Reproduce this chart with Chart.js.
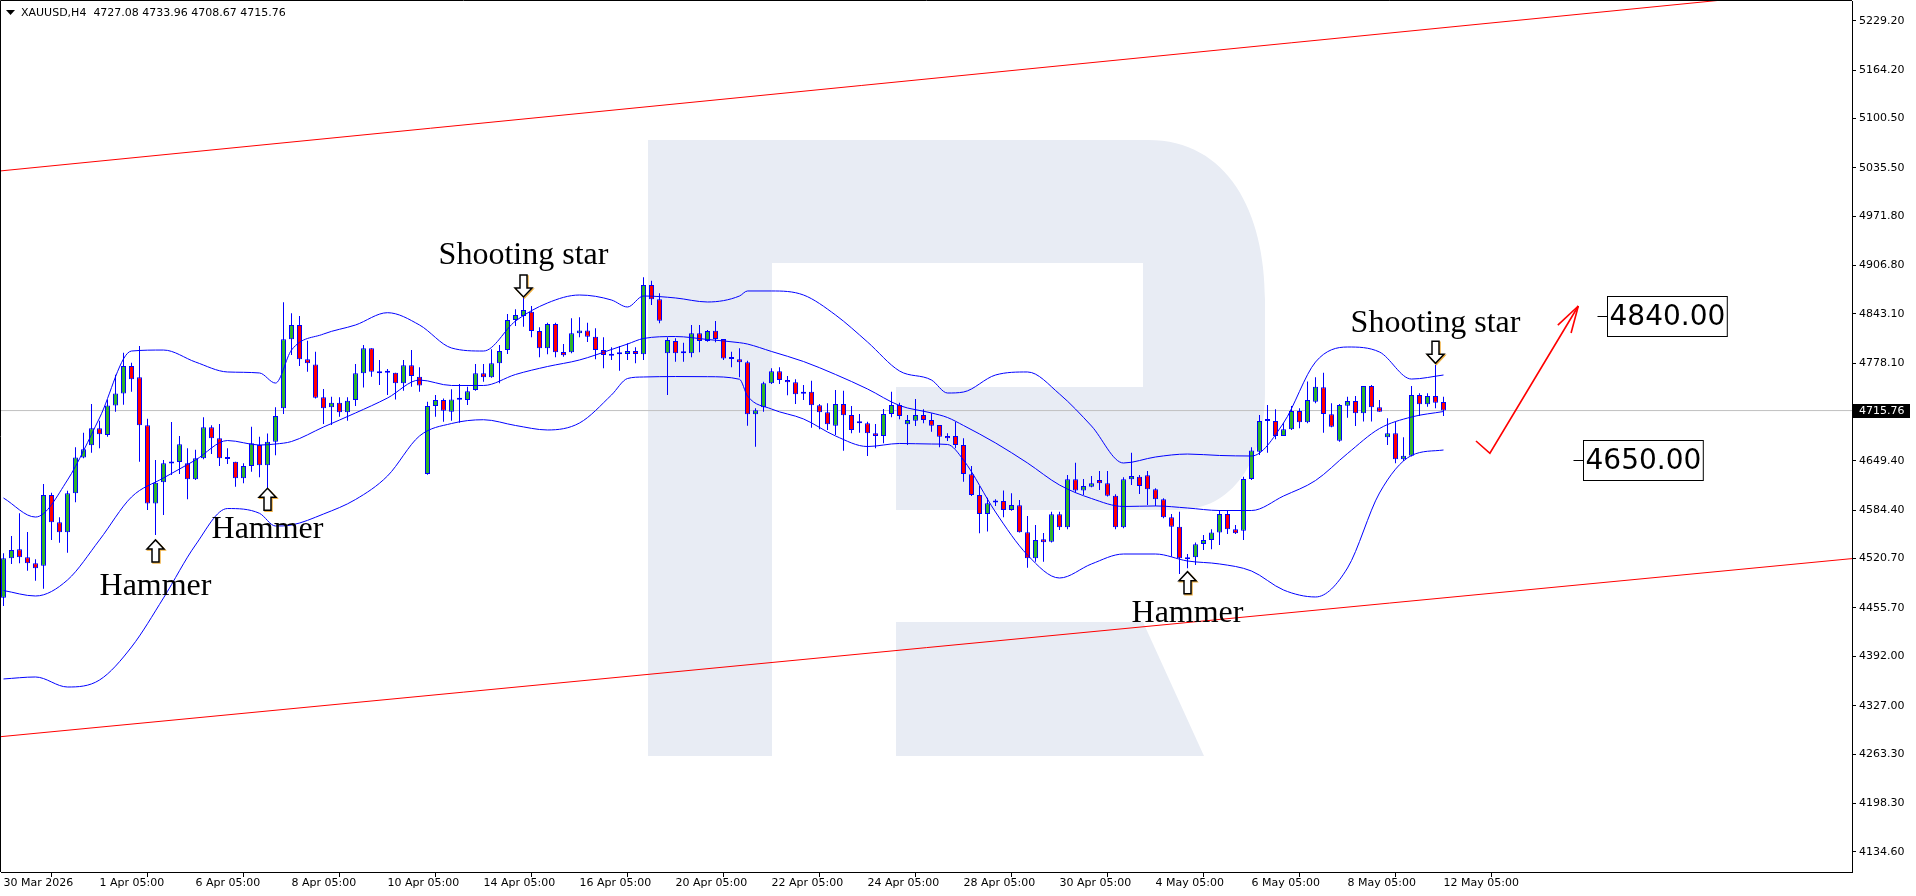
<!DOCTYPE html>
<html>
<head>
<meta charset="utf-8">
<title>XAUUSD, H4</title>
<script src="https://cdn.jsdelivr.net/npm/chart.js@4.4.1/dist/chart.umd.min.js"></script>
<style>
  html, body { margin: 0; padding: 0; background: #ffffff; overflow: hidden; }
  #xauChart { display: block; }
</style>
</head>
<body>
<canvas id="xauChart" width="1916" height="896"></canvas>
<script>
// H4 candles, bar 0 = 30 Mar 2026, last bar = 12 May 05:00
const opens = [
  4469.3, 4521.1, 4533.0, 4522.4, 4514.5, 4511.4, 4604.5, 4568.5, 4555.4, 4606.7,
  4654.1, 4670.0, 4692.4, 4683.6, 4722.6, 4738.4, 4774.5, 4759.5, 4696.3, 4593.5,
  4621.2, 4646.0, 4648.0, 4646.2, 4625.2, 4652.8, 4693.7, 4679.2, 4653.0, 4648.4,
  4626.5, 4642.7, 4670.4, 4643.6, 4674.8, 4718.7, 4809.6, 4828.4, 4783.2, 4776.6,
  4733.2, 4720.0, 4726.1, 4713.4, 4729.6, 4764.8, 4797.7, 4766.0, 4766.0, 4765.6,
  4751.6, 4775.3, 4760.4, 4632.2, 4721.7, 4729.6, 4714.3, 4730.0, 4729.6, 4742.8,
  4764.8, 4759.5, 4778.0, 4795.5, 4835.1, 4840.3, 4846.0, 4820.6, 4797.7, 4829.8,
  4792.9, 4792.5, 4817.5, 4821.4, 4813.1, 4795.5, 4789.0, 4790.0, 4790.3, 4794.2,
  4789.8, 4881.2, 4862.3, 4791.2, 4807.4, 4791.5, 4791.2, 4817.5, 4807.4, 4821.0,
  4810.0, 4784.0, 4783.3, 4779.3, 4710.8, 4720.0, 4751.6, 4767.5, 4756.0, 4753.0,
  4738.0, 4740.7, 4722.7, 4713.4, 4695.9, 4724.4, 4709.9, 4699.0, 4698.9, 4685.8,
  4682.3, 4711.2, 4723.1, 4697.6, 4702.4, 4709.9, 4703.3, 4696.8, 4682.3, 4682.3,
  4670.4, 4631.8, 4604.5, 4579.5, 4594.6, 4596.7, 4584.8, 4591.0, 4555.4, 4521.1,
  4546.2, 4543.1, 4579.1, 4562.0, 4625.2, 4610.3, 4615.5, 4624.3, 4619.9, 4603.7,
  4562.0, 4625.2, 4628.7, 4630.5, 4612.0, 4598.8, 4575.1, 4562.8, 4520.0, 4522.4,
  4540.0, 4545.3, 4555.0, 4579.5, 4559.3, 4557.6, 4625.6, 4661.6, 4703.0, 4702.0,
  4682.3, 4691.1, 4715.2, 4700.3, 4727.5, 4746.4, 4710.8, 4676.1, 4722.2, 4728.4,
  4712.1, 4748.1, 4720.0, 4680.5, 4685.8, 4651.6, 4656.4, 4736.3, 4724.0, 4735.0,
  4727.08
];
const highs = [
  4527.7, 4550.5, 4580.4, 4555.8, 4519.8, 4619.0, 4607.6, 4575.1, 4610.2, 4667.3,
  4686.6, 4724.4, 4702.4, 4730.5, 4763.0, 4792.0, 4778.8, 4800.8, 4705.1, 4650.6,
  4650.6, 4700.7, 4682.2, 4666.0, 4664.0, 4706.8, 4696.3, 4698.0, 4666.0, 4648.4,
  4646.2, 4694.5, 4681.3, 4685.7, 4720.0, 4858.3, 4843.8, 4840.3, 4807.8, 4793.3,
  4744.1, 4734.0, 4733.2, 4733.2, 4777.1, 4802.1, 4797.7, 4782.3, 4770.5, 4765.6,
  4782.3, 4795.5, 4772.7, 4727.5, 4736.2, 4731.8, 4743.7, 4750.7, 4747.2, 4777.1,
  4777.1, 4796.4, 4802.1, 4843.0, 4849.1, 4865.8, 4853.5, 4825.4, 4831.5, 4831.5,
  4803.4, 4837.3, 4838.6, 4831.5, 4824.1, 4812.2, 4799.1, 4800.8, 4804.3, 4799.1,
  4891.3, 4886.9, 4870.2, 4812.2, 4810.9, 4805.2, 4828.5, 4828.5, 4822.0, 4833.7,
  4810.0, 4793.4, 4797.8, 4781.5, 4718.7, 4753.8, 4771.4, 4772.7, 4761.3, 4756.9,
  4749.4, 4755.1, 4724.4, 4725.3, 4742.9, 4742.0, 4721.8, 4711.2, 4701.1, 4698.0,
  4717.8, 4740.7, 4726.2, 4709.9, 4731.0, 4717.4, 4712.1, 4696.8, 4685.8, 4701.1,
  4679.2, 4642.8, 4616.4, 4601.0, 4598.8, 4610.3, 4606.8, 4598.0, 4576.9, 4565.0,
  4554.6, 4582.6, 4582.6, 4630.9, 4647.1, 4625.6, 4629.6, 4636.2, 4636.2, 4605.4,
  4627.8, 4660.3, 4630.9, 4636.2, 4613.3, 4600.2, 4579.5, 4582.6, 4526.8, 4541.8,
  4551.9, 4559.3, 4584.8, 4584.8, 4565.0, 4628.7, 4667.4, 4710.0, 4723.1, 4717.4,
  4699.8, 4721.8, 4718.7, 4753.9, 4759.6, 4765.7, 4725.3, 4724.4, 4734.1, 4735.0,
  4748.1, 4749.5, 4729.7, 4705.6, 4701.2, 4680.5, 4748.1, 4738.5, 4738.5, 4775.8,
  4733.96
];
const lows = [
  4458.3, 4513.6, 4514.5, 4504.9, 4491.7, 4481.1, 4545.2, 4541.7, 4528.6, 4594.9,
  4652.8, 4660.3, 4666.0, 4681.4, 4714.3, 4723.5, 4740.6, 4648.4, 4584.8, 4551.8,
  4578.2, 4630.9, 4632.2, 4598.8, 4624.3, 4651.5, 4658.5, 4642.7, 4645.4, 4615.5,
  4619.9, 4635.2, 4627.8, 4607.6, 4656.8, 4711.2, 4788.9, 4774.4, 4767.0, 4731.8,
  4698.0, 4696.7, 4707.7, 4702.4, 4721.7, 4746.3, 4760.4, 4749.4, 4736.2, 4730.5,
  4741.9, 4747.2, 4740.6, 4631.3, 4707.7, 4701.1, 4702.4, 4699.8, 4723.1, 4741.9,
  4753.8, 4759.0, 4751.6, 4790.3, 4827.2, 4826.3, 4812.2, 4785.9, 4789.8, 4785.9,
  4786.8, 4791.2, 4812.2, 4806.1, 4783.2, 4771.4, 4782.4, 4768.3, 4782.4, 4778.0,
  4782.4, 4854.8, 4830.7, 4736.3, 4780.2, 4780.2, 4785.9, 4792.5, 4806.5, 4805.6,
  4782.4, 4772.7, 4759.5, 4695.9, 4668.2, 4714.3, 4750.8, 4750.8, 4735.8, 4724.4,
  4729.7, 4693.2, 4691.1, 4690.2, 4683.6, 4662.9, 4685.8, 4686.7, 4655.9, 4666.0,
  4672.6, 4706.9, 4704.2, 4670.4, 4695.4, 4699.0, 4688.0, 4667.3, 4675.7, 4666.0,
  4622.1, 4603.2, 4554.1, 4556.3, 4590.1, 4575.1, 4583.9, 4555.0, 4508.8, 4516.7,
  4516.7, 4541.8, 4558.4, 4559.3, 4607.6, 4604.5, 4614.6, 4611.1, 4602.4, 4559.3,
  4560.6, 4617.7, 4605.9, 4591.4, 4590.1, 4573.8, 4523.3, 4500.5, 4508.0, 4512.3,
  4532.1, 4533.0, 4538.7, 4553.2, 4553.2, 4545.3, 4624.3, 4657.3, 4660.3, 4677.9,
  4682.3, 4690.2, 4692.4, 4699.0, 4725.3, 4686.7, 4693.7, 4674.8, 4706.4, 4695.5,
  4701.2, 4701.2, 4714.3, 4670.4, 4646.3, 4649.4, 4655.1, 4708.6, 4720.9, 4718.7,
  4708.67
];
const closes = [
  4521.1, 4532.1, 4522.4, 4514.5, 4507.9, 4604.5, 4568.5, 4555.4, 4606.7, 4654.1,
  4664.7, 4692.4, 4684.4, 4722.6, 4738.4, 4774.5, 4756.9, 4696.3, 4593.5, 4620.8,
  4646.2, 4647.0, 4671.3, 4625.2, 4652.8, 4693.7, 4679.2, 4652.8, 4652.0, 4626.5,
  4642.7, 4672.6, 4643.6, 4674.8, 4708.6, 4809.6, 4828.4, 4783.2, 4778.0, 4732.7,
  4718.7, 4726.1, 4713.4, 4728.8, 4764.8, 4797.7, 4767.0, 4765.0, 4765.5, 4751.6,
  4775.3, 4761.3, 4748.9, 4721.7, 4729.6, 4715.6, 4730.5, 4731.0, 4741.1, 4764.8,
  4759.5, 4778.0, 4794.2, 4835.1, 4841.7, 4848.2, 4820.6, 4797.7, 4829.8, 4792.5,
  4788.5, 4817.5, 4821.4, 4813.1, 4795.5, 4789.0, 4788.0, 4790.3, 4794.2, 4790.3,
  4881.2, 4862.3, 4834.2, 4808.7, 4791.2, 4791.2, 4817.5, 4807.4, 4820.6, 4810.0,
  4784.4, 4783.7, 4779.3, 4710.8, 4716.1, 4751.6, 4767.5, 4756.0, 4753.0, 4737.2,
  4738.5, 4722.7, 4713.4, 4697.6, 4724.4, 4709.5, 4690.2, 4698.9, 4685.8, 4682.3,
  4711.2, 4723.1, 4708.6, 4703.3, 4709.9, 4703.3, 4695.9, 4681.4, 4679.2, 4670.4,
  4632.2, 4604.5, 4579.5, 4593.6, 4594.5, 4584.8, 4591.4, 4555.4, 4521.1, 4545.3,
  4542.2, 4579.1, 4562.0, 4625.2, 4610.3, 4616.4, 4619.9, 4619.9, 4603.7, 4562.0,
  4625.2, 4629.6, 4616.4, 4612.0, 4598.8, 4575.1, 4562.8, 4521.1, 4522.0, 4539.6,
  4545.3, 4555.0, 4579.5, 4559.3, 4554.1, 4625.6, 4663.0, 4702.0, 4702.0, 4682.3,
  4691.1, 4715.2, 4700.3, 4729.7, 4747.3, 4711.3, 4694.6, 4723.1, 4728.4, 4712.1,
  4748.1, 4720.0, 4714.3, 4685.8, 4651.6, 4656.4, 4736.3, 4724.0, 4735.0, 4726.2,
  4715.76
];

// time axis: one label every 12 bars
const timeTickIdx = [0, 12, 24, 36, 48, 60, 72, 84, 96, 108, 120, 132, 144, 156, 168, 180];
const timeLabels = ['30 Mar 2026', '1 Apr 05:00', '6 Apr 05:00', '8 Apr 05:00', '10 Apr 05:00',
  '14 Apr 05:00', '16 Apr 05:00', '20 Apr 05:00', '22 Apr 05:00', '24 Apr 05:00', '28 Apr 05:00',
  '30 Apr 05:00', '4 May 05:00', '6 May 05:00', '8 May 05:00', '12 May 05:00'];

// price axis labels
const priceTicks = [5229.2, 5164.2, 5100.5, 5035.5, 4971.8, 4906.8, 4843.1, 4778.1,
  4649.4, 4584.4, 4520.7, 4455.7, 4392.0, 4327.0, 4263.3, 4198.3, 4134.6];

// bollinger bands
const bandIdx = [0, 4, 8, 12, 16, 20, 24, 28, 32, 34, 36, 40, 44, 48, 52, 56, 60, 64, 68, 72,
  76, 78, 80, 84, 88, 92, 93, 96, 100, 104, 108, 112, 116, 118, 120, 124, 128, 132, 136, 140,
  144, 148, 152, 156, 160, 164, 168, 172, 176, 180];
const bandUpper = [4600.6, 4575.5, 4624.3, 4706.0, 4794.2, 4795.5, 4779.7, 4766.6, 4765.3, 4752.0,
  4795.5, 4816.6, 4828.5, 4844.7, 4828.5, 4798.2, 4794.2, 4833.7, 4857.5, 4868.0,
  4861.4, 4852.2, 4866.7, 4864.1, 4858.8, 4866.7, 4873.3, 4873.3, 4868.0, 4841.7,
  4806.1, 4767.9, 4756.0, 4738.9, 4740.2, 4762.6, 4766.6, 4737.6, 4695.4, 4646.7,
  4654.6, 4658.5, 4656.6, 4655.9, 4699.4, 4779.7, 4799.5, 4792.9, 4757.3, 4762.6];
const bandMiddle = [4478.7, 4471.5, 4492.6, 4545.3, 4601.9, 4627.0, 4650.6, 4676.3, 4670.4, 4671.7,
  4675.0, 4694.1, 4712.6, 4732.3, 4756.0, 4748.8, 4748.8, 4763.3, 4773.8, 4782.4,
  4796.2, 4803.4, 4810.7, 4813.3, 4809.4, 4805.2, 4803.4, 4793.6, 4780.4, 4763.3,
  4744.2, 4722.4, 4712.6, 4706.6, 4696.1, 4673.1, 4646.7, 4617.7, 4599.9, 4589.4,
  4590.1, 4587.4, 4584.1, 4584.1, 4603.2, 4623.6, 4659.2, 4692.1, 4707.3, 4714.5];
const bandLower = [4362.2, 4364.8, 4351.6, 4360.8, 4404.3, 4468.9, 4538.7, 4586.7, 4580.4, 4563.7,
  4565.0, 4579.5, 4598.6, 4629.6, 4682.3, 4698.7, 4703.7, 4696.1, 4690.2, 4699.4,
  4736.3, 4758.0, 4760.0, 4760.6, 4760.4, 4757.0, 4735.0, 4717.8, 4704.7, 4682.3,
  4668.4, 4672.4, 4671.7, 4671.1, 4650.6, 4582.1, 4525.5, 4495.2, 4513.7, 4526.8,
  4526.8, 4517.6, 4513.7, 4504.4, 4479.4, 4470.2, 4508.4, 4607.2, 4656.6, 4663.8];

// trend channel
const channelIdx = [-1, 240];
const channelTop = [5030.8, 5282.9];
const channelBottom = [4285.5, 4529.8];

// candle pattern marks
const markNames = ['Shooting star', 'Hammer', 'Hammer', 'Hammer', 'Shooting star'];
const markIdx = [65, 19, 33, 148, 179];
const markTip = [4865.4, 4545.3, 4613.4, 4503.5, 4778.0];
const markText = [4908.8, 4472.8, 4547.5, 4437.2, 4819.6];

// target levels and forecast arrow
const levelPrices = [4840, 4650];
const levelIdx = [200.4, 197.4];
const forecastIdx = [184.06, 185.8, 196.85];
const forecastPrice = [4675.7, 4659.5, 4853.5];

const GREEN = '#2db42d';
const RED = '#ff0000';
const BLUE = '#0000ff';
const lastPrice = closes[closes.length - 1];

const wickData = highs.map((h, i) => ({ x: i, y: [lows[i], h] }));
const bodyData = opens.map((o, i) => ({ x: i, y: [o, closes[i]] }));
const bodyColors = opens.map((o, i) => closes[i] >= o ? GREEN : RED);
const toPoints = vals => bandIdx.map((x, i) => ({ x, y: vals[i] }));

function drawLogo(ctx) {
  ctx.fillStyle = '#e8ecf4';
  ctx.fillRect(648, 140, 124, 616);
  ctx.beginPath();
  ctx.moveTo(772, 140);
  ctx.lineTo(1148, 140);
  ctx.bezierCurveTo(1228, 140, 1265, 212, 1265, 300);
  ctx.lineTo(1265, 392);
  ctx.bezierCurveTo(1265, 462, 1232, 510, 1178, 510);
  ctx.lineTo(896, 510);
  ctx.lineTo(896, 387);
  ctx.lineTo(1143, 387);
  ctx.lineTo(1143, 263);
  ctx.lineTo(772, 263);
  ctx.closePath();
  ctx.fill();
  ctx.beginPath();
  ctx.moveTo(896, 622);
  ctx.lineTo(1143, 622);
  ctx.lineTo(1204, 756);
  ctx.lineTo(896, 756);
  ctx.closePath();
  ctx.fill();
}

function hollowArrow(ctx, x, tipY, down) {
  const s = down ? 1 : -1;
  const top = tipY - s * 22;
  const neck = tipY - s * 9;
  const pts = [[x - 3.5, top], [x + 3.5, top], [x + 3.5, neck], [x + 8.5, neck], [x, tipY],
    [x - 8.5, neck], [x - 3.5, neck]];
  const trace = d => {
    ctx.beginPath();
    pts.forEach((p, i) => i ? ctx.lineTo(p[0] + d, p[1] + d) : ctx.moveTo(p[0] + d, p[1] + d));
    ctx.closePath();
  };
  ctx.lineWidth = 1.5;
  trace(1);
  ctx.strokeStyle = '#f0b040';
  ctx.stroke();
  trace(0);
  ctx.fillStyle = '#ffffff';
  ctx.fill();
  ctx.strokeStyle = '#000000';
  ctx.stroke();
}

const decorations = {
  id: 'decorations',
  beforeDatasetsDraw(chart) {
    const a = chart.chartArea;
    const ctx = chart.ctx;
    ctx.save();
    ctx.beginPath();
    ctx.rect(a.left, a.top, a.right - a.left, a.bottom - a.top);
    ctx.clip();
    drawLogo(ctx);
    ctx.restore();
  },
  afterDatasetsDraw(chart) {
    const ctx = chart.ctx;
    const xs = chart.scales.x, ys = chart.scales.y;
    ctx.save();

    // pattern labels
    ctx.font = '32px "Liberation Serif", "Times New Roman", serif';
    ctx.textAlign = 'center';
    ctx.textBaseline = 'alphabetic';
    markNames.forEach((name, i) => {
      const x = xs.getPixelForValue(markIdx[i]);
      ctx.fillStyle = '#000000';
      ctx.fillText(name, x, ys.getPixelForValue(markText[i]));
      hollowArrow(ctx, x, ys.getPixelForValue(markTip[i]), name === 'Shooting star');
    });

    // forecast arrow
    ctx.strokeStyle = '#ff0000';
    ctx.lineWidth = 1.6;
    ctx.lineJoin = 'miter';
    const fp = forecastIdx.map((v, i) => [xs.getPixelForValue(v), ys.getPixelForValue(forecastPrice[i])]);
    ctx.beginPath();
    fp.forEach((p, i) => i ? ctx.lineTo(p[0], p[1]) : ctx.moveTo(p[0], p[1]));
    ctx.stroke();
    const tip = fp[fp.length - 1], prev = fp[fp.length - 2];
    const ang = Math.atan2(prev[1] - tip[1], prev[0] - tip[0]);
    [-0.28, 0.28].forEach(d => {
      ctx.beginPath();
      ctx.moveTo(tip[0], tip[1]);
      ctx.lineTo(tip[0] + 28 * Math.cos(ang + d), tip[1] + 28 * Math.sin(ang + d));
      ctx.stroke();
    });

    // target level boxes
    ctx.font = '28px "DejaVu Sans", sans-serif';
    ctx.textAlign = 'left';
    ctx.textBaseline = 'middle';
    levelPrices.forEach((p, i) => {
      const y = Math.round(ys.getPixelForValue(p)) + 0.5;
      const x = Math.round(xs.getPixelForValue(levelIdx[i])) + 0.5;
      const txt = p.toFixed(2);
      const w = ctx.measureText(txt).width + 4;
      ctx.strokeStyle = '#000000';
      ctx.lineWidth = 1;
      ctx.beginPath();
      ctx.moveTo(x - 10, y);
      ctx.lineTo(x, y);
      ctx.stroke();
      ctx.fillStyle = '#ffffff';
      ctx.fillRect(x, y - 20, w, 40);
      ctx.strokeRect(x, y - 20, w, 40);
      ctx.fillStyle = '#000000';
      ctx.fillText(txt, x + 2, y + 1);
    });
    ctx.restore();
  },
  afterDraw(chart) {
    const ctx = chart.ctx;
    const a = chart.chartArea;
    const ys = chart.scales.y;
    ctx.save();
    // frame top / left
    ctx.strokeStyle = '#000000';
    ctx.lineWidth = 1;
    ctx.beginPath();
    ctx.moveTo(a.left - 0.5, a.bottom);
    ctx.lineTo(a.left - 0.5, a.top - 0.5);
    ctx.lineTo(a.right, a.top - 0.5);
    ctx.stroke();

    // header
    ctx.fillStyle = '#000000';
    ctx.beginPath();
    ctx.moveTo(6, 10);
    ctx.lineTo(15, 10);
    ctx.lineTo(10.5, 15);
    ctx.closePath();
    ctx.fill();
    ctx.font = '11px "DejaVu Sans", sans-serif';
    ctx.textBaseline = 'middle';
    ctx.textAlign = 'left';
    ctx.fillText('XAUUSD,H4  ' + [opens, highs, lows, closes].map(s => s[s.length - 1].toFixed(2)).join(' '), 21, 13);

    // current price tag
    const y = Math.round(ys.getPixelForValue(lastPrice));
    ctx.fillStyle = '#000000';
    ctx.fillRect(a.right + 1, y - 7, 57, 14);
    ctx.fillStyle = '#ffffff';
    ctx.fillText(lastPrice.toFixed(2), a.right + 7, y + 0.5);
    ctx.restore();
  }
};

Chart.defaults.font.family = '"DejaVu Sans", sans-serif';

new Chart(document.getElementById('xauChart'), {
  type: 'bar',
  data: {
    datasets: [
      { type: 'line', data: toPoints(bandUpper), borderColor: BLUE, borderWidth: 1, pointRadius: 0, cubicInterpolationMode: 'monotone', order: 0 },
      { type: 'line', data: toPoints(bandMiddle), borderColor: BLUE, borderWidth: 1, pointRadius: 0, cubicInterpolationMode: 'monotone', order: 0 },
      { type: 'line', data: toPoints(bandLower), borderColor: BLUE, borderWidth: 1, pointRadius: 0, cubicInterpolationMode: 'monotone', order: 0 },
      { type: 'bar', data: bodyData, backgroundColor: bodyColors, borderColor: BLUE, borderWidth: 1,
        borderSkipped: false, barThickness: 5, minBarLength: 2, grouped: false, inflateAmount: 0, order: 1 },
      { type: 'bar', data: wickData, backgroundColor: BLUE, borderWidth: 0, barThickness: 1,
        grouped: false, inflateAmount: 0, order: 2 },
      { type: 'line', data: channelIdx.map((x, i) => ({ x, y: channelTop[i] })), borderColor: '#ff0000', borderWidth: 1, pointRadius: 0, order: 3 },
      { type: 'line', data: channelIdx.map((x, i) => ({ x, y: channelBottom[i] })), borderColor: '#ff0000', borderWidth: 1, pointRadius: 0, order: 3 },
      { type: 'line', data: [{ x: -1, y: lastPrice }, { x: 240, y: lastPrice }], borderColor: '#c0c0c0', borderWidth: 1, pointRadius: 0, order: 4 }
    ]
  },
  options: {
    responsive: false,
    devicePixelRatio: 1,
    animation: false,
    events: [],
    layout: { padding: { top: 1, left: 1, right: 0, bottom: 0 } },
    plugins: { legend: { display: false }, tooltip: { enabled: false } },
    scales: {
      x: {
        type: 'linear',
        min: -0.3125,
        max: 231.0625,
        offset: false,
        grid: { display: true, drawOnChartArea: false, drawTicks: true, tickLength: 5, color: '#000000' },
        border: { display: true, color: '#000000' },
        ticks: { align: 'start', autoSkip: false, maxRotation: 0, padding: 0, color: '#000000',
          font: { size: 11 }, callback: (v, i) => timeLabels[i] },
        afterBuildTicks: scale => { scale.ticks = timeTickIdx.map(v => ({ value: v })); },
        afterFit: scale => { scale.height = 24; scale.paddingLeft = 0; scale.paddingRight = 0; }
      },
      y: {
        type: 'linear',
        position: 'right',
        min: 4107.9,
        max: 5255.3,
        grid: { display: true, drawOnChartArea: false, drawTicks: true, tickLength: 4, color: '#000000' },
        border: { display: true, color: '#000000' },
        ticks: { autoSkip: false, padding: 3, color: '#000000', font: { size: 11 },
          callback: v => v.toFixed(2) },
        afterBuildTicks: scale => { scale.ticks = priceTicks.map(v => ({ value: v })); },
        afterFit: scale => { scale.width = 64; scale.paddingTop = 0; scale.paddingBottom = 0; }
      }
    }
  },
  plugins: [decorations]
});
</script>
</body>
</html>
